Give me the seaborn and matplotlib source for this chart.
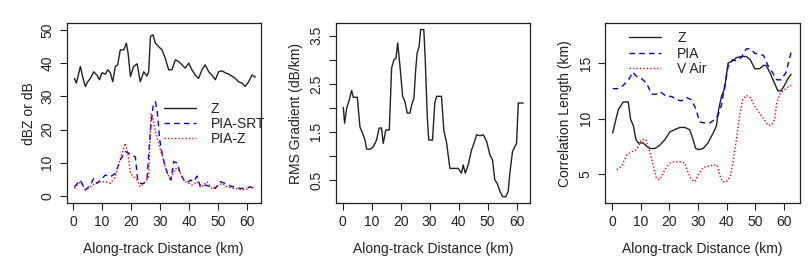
""" Along-track profiles: reflectivity/PIA, RMS gradient, correlation length """

import matplotlib
matplotlib.use('Agg')
import matplotlib.pyplot as plt
import numpy as np
import seaborn as sns

sns.set_style('ticks')
plt.rcParams['font.family'] = ['Liberation Sans', 'DejaVu Sans']

FS = 10
INK = '#222222'

# ---- panel 1: dBZ / dB ----
dist_z = [0.46, 1.15, 2.53, 3.45, 4.25, 5.06, 5.98, 7.13, 8.28, 9.08, 10.0, 11.15,
          11.95, 12.87, 13.68, 14.6, 15.4, 16.3, 17.5, 18.4, 19.0, 19.8, 20.9, 22.1,
          23.2, 24.4, 25.5, 26.1, 26.7, 27.6, 28.4, 29.5, 30.7, 31.8, 33.0, 34.1,
          35.3, 36.4, 37.6, 38.7, 39.9, 41.0, 42.2, 43.3, 44.5, 45.6, 46.8, 47.9,
          49.1, 50.2, 51.4, 52.5, 53.7, 54.8, 56.0, 57.1, 58.3, 59.4, 60.6, 61.7, 62.9]
z_dbz = [35.4, 34.0, 39.0, 35.4, 33.0, 34.4, 35.4, 37.4, 36.4, 35.0, 37.1, 36.7,
         38.0, 37.1, 34.4, 39.0, 39.5, 44.0, 44.0, 46.0, 43.0, 36.0, 39.0, 39.8,
         34.4, 37.4, 36.1, 37.4, 48.0, 48.5, 46.0, 45.0, 44.0, 41.5, 38.0, 38.0,
         41.0, 40.5, 39.5, 38.5, 40.0, 38.0, 36.4, 35.4, 38.0, 39.5, 37.4, 36.4,
         35.0, 37.4, 37.7, 37.1, 36.7, 36.1, 35.4, 34.4, 34.0, 33.0, 34.4, 36.4, 35.8]

dist_srt = [0.46, 2.53, 4.25, 5.98, 7.13, 8.28, 9.43, 11.15, 12.87, 14.6, 16.3, 18.0,
            19.2, 20.3, 21.5, 22.3, 23.2, 24.4, 25.5, 26.7, 27.6, 28.4, 29.0, 29.9,
            30.7, 31.8, 33.0, 33.8, 34.7, 35.9, 37.0, 38.2, 39.3, 40.5, 41.6, 42.8,
            43.9, 45.6, 47.4, 49.1, 50.8, 52.5, 54.3, 56.0, 57.7, 60.0, 61.1, 62.9]
pia_srt = [2.8, 4.8, 1.8, 3.3, 5.3, 3.8, 4.8, 6.3, 5.8, 6.8, 10.8, 13.4,
           12.9, 12.3, 11.8, 4.8, 3.8, 3.8, 4.8, 19.9, 26.9, 28.4, 25.9, 16.9,
           12.9, 8.8, 5.8, 4.8, 10.3, 10.0, 6.8, 4.8, 4.0, 4.8, 4.3, 6.0,
           2.8, 3.3, 2.8, 2.3, 4.3, 3.8, 3.0, 2.6, 2.3, 2.3, 2.8, 2.0]

dist_piaz = [0.46, 2.53, 4.25, 5.98, 7.7, 9.43, 11.15, 12.87, 14.6, 16.3, 18.0, 18.9,
             19.8, 20.9, 22.1, 23.2, 24.9, 26.1, 26.9, 27.6, 28.4, 29.5, 30.7, 31.8,
             33.0, 34.1, 35.3, 36.4, 37.6, 38.7, 39.9, 41.0, 42.8, 44.5, 46.2, 47.9,
             49.7, 51.4, 53.1, 55.4, 57.7, 59.4, 61.1, 62.9]
pia_z = [2.3, 4.3, 1.8, 2.8, 3.8, 4.3, 4.3, 3.8, 5.8, 11.3, 15.9, 12.9,
         6.8, 5.8, 4.8, 2.8, 4.3, 5.8, 24.9, 23.4, 19.4, 15.9, 12.3, 8.8,
         5.8, 5.8, 8.3, 8.0, 5.8, 4.3, 3.8, 3.3, 4.3, 2.8, 4.3, 2.3,
         3.0, 3.8, 2.8, 2.3, 2.0, 1.8, 2.8, 2.3]

# ---- panel 2: RMS gradient ----
dist_rms = [0.23, 0.69, 1.38, 2.3, 3.1, 3.68, 5.06, 5.98, 6.9, 7.7, 8.28, 9.43,
            10.6, 11.7, 12.6, 13.4, 14.0, 14.9, 16.1, 16.9, 17.7, 18.4, 19.0, 19.8,
            20.7, 21.5, 22.3, 23.2, 23.8, 24.6, 25.2, 25.7, 26.4, 26.9, 28.0, 28.5,
            29.2, 29.7, 31.0, 31.8, 32.4, 34.1, 34.9, 35.9, 37.0, 38.2, 39.9, 41.0,
            41.6, 42.3, 43.3, 44.5, 45.3, 46.2, 47.4, 48.5, 49.7, 50.8, 51.7, 52.5,
            53.3, 54.3, 55.2, 56.3, 57.1, 57.7, 58.6, 59.4, 60.0, 60.6, 62.3]
rms_grad = [2.01, 1.68, 1.99, 2.17, 2.36, 2.22, 2.22, 1.60, 1.47, 1.33, 1.14, 1.14,
            1.19, 1.33, 1.58, 1.58, 1.26, 1.54, 1.54, 2.83, 3.00, 3.03, 3.35, 2.86,
            2.24, 2.13, 1.89, 1.89, 2.06, 2.20, 2.79, 3.14, 3.28, 3.63, 3.63, 3.00,
            1.82, 1.33, 1.33, 2.10, 2.24, 2.24, 1.54, 1.26, 0.74, 0.74, 0.74, 0.64,
            0.81, 0.64, 0.81, 1.13, 1.26, 1.44, 1.42, 1.44, 1.30, 1.02, 0.92, 0.50,
            0.43, 0.26, 0.15, 0.15, 0.26, 0.64, 1.09, 1.19, 1.26, 2.10, 2.10]

# ---- panel 3: correlation length ----
dist_cz = [0.23, 1.04, 2.2, 3.94, 5.68, 6.5, 7.42, 8.35, 9.16, 10.9, 12.06, 13.2,
           14.97, 16.7, 18.45, 20.2, 21.9, 23.7, 25.4, 27.1, 28.3, 29.2, 30.4, 31.8,
           33.5, 35.3, 36.4, 37.2, 38.2, 39.3, 40.5, 42.0, 43.4, 45.1, 46.9, 48.3,
           49.8, 51.5, 52.9, 53.8, 55.0, 56.7, 57.9, 59.0, 60.2, 61.4, 62.5]
corr_z = [8.7, 9.6, 10.8, 11.5, 11.5, 9.9, 9.4, 8.1, 7.8, 7.8, 7.5, 7.3,
          7.3, 7.6, 8.1, 8.8, 9.0, 9.2, 9.2, 9.0, 8.1, 7.3, 7.2, 7.3,
          7.8, 8.7, 9.3, 10.8, 12.0, 12.7, 15.0, 15.2, 15.5, 15.6, 15.6, 15.3,
          14.5, 14.5, 14.8, 14.8, 14.2, 13.2, 12.5, 12.5, 13.0, 13.6, 14.0]

dist_cpia = [0.23, 2.2, 3.94, 6.03, 7.19, 8.58, 10.3, 12.06, 13.8, 15.5, 16.9, 19.0,
             20.8, 22.5, 24.2, 26.0, 27.7, 29.2, 30.6, 32.4, 34.1, 35.8, 37.0, 38.2,
             39.3, 40.5, 42.0, 43.4, 45.1, 46.9, 48.3, 49.8, 51.5, 52.9, 54.4, 55.9,
             57.5, 59.0, 60.8, 62.5]
corr_pia = [12.7, 12.7, 13.0, 13.6, 14.2, 13.8, 13.6, 13.2, 12.2, 12.2, 12.4, 12.0,
            12.0, 11.7, 11.6, 11.9, 11.7, 10.9, 9.7, 9.6, 9.6, 9.9, 10.3, 11.2,
            12.9, 14.7, 15.3, 15.2, 15.5, 16.3, 16.3, 15.9, 15.8, 15.7, 14.8, 14.2,
            13.5, 13.5, 14.2, 16.0]

dist_cair = [1.62, 3.36, 5.1, 6.84, 8.58, 10.3, 11.8, 13.2, 14.4, 15.5, 16.7, 18.45,
             20.2, 21.9, 23.7, 25.4, 26.6, 27.7, 28.9, 30.0, 31.8, 33.5, 35.3, 36.7,
             37.6, 38.5, 39.9, 41.3, 42.2, 43.4, 44.5, 45.6, 46.9, 48.3, 49.8, 51.5,
             53.2, 54.4, 55.6, 56.7, 57.5, 58.7, 60.2, 61.7, 62.5]
corr_vair = [5.4, 5.7, 6.7, 7.0, 7.2, 8.1, 8.1, 7.0, 5.8, 4.6, 4.5, 5.4,
             6.0, 6.1, 6.1, 6.0, 5.1, 4.5, 4.3, 4.9, 5.6, 5.7, 5.8, 5.8,
             4.9, 4.3, 4.3, 4.8, 6.0, 8.1, 10.2, 11.7, 12.1, 11.9, 11.1, 10.5,
             9.9, 9.4, 9.4, 9.9, 11.4, 12.3, 12.6, 12.9, 13.0]

fig = plt.figure(figsize=(8.08, 2.69), dpi=100)
bottom, height = 0.2454, 0.668
ax1 = fig.add_axes([0.0825, bottom, 0.240, height])
ax2 = fig.add_axes([0.4158, bottom, 0.240, height])
ax3 = fig.add_axes([0.7488, bottom, 0.2416, height])

sns.lineplot(x=dist_z, y=z_dbz, ax=ax1, color=INK, lw=1, label='Z')
sns.lineplot(x=dist_srt, y=pia_srt, ax=ax1, color='blue', lw=1, linestyle=(0, (4, 3)), label='PIA-SRT')
sns.lineplot(x=dist_piaz, y=pia_z, ax=ax1, color='red', lw=1, linestyle=(0, (1, 1.5)), label='PIA-Z')

sns.lineplot(x=dist_rms, y=rms_grad, ax=ax2, color=INK, lw=1)

sns.lineplot(x=dist_cz, y=corr_z, ax=ax3, color=INK, lw=1, label='Z')
sns.lineplot(x=dist_cpia, y=corr_pia, ax=ax3, color='blue', lw=1, linestyle=(0, (4, 3)), label='PIA')
sns.lineplot(x=dist_cair, y=corr_vair, ax=ax3, color='red', lw=1, linestyle=(0, (1, 1.5)), label='V Air')

ax1.set_ylim(-2.1, 52)
ax1.set_xlim(-2.2, 64.7)
ax1.set_yticks(np.arange(0, 51, 10))
ax1.set_ylabel('dBZ or dB', fontsize=FS, color=INK, labelpad=3)

ax2.set_ylim(0.02, 3.76)
ax2.set_xlim(-2.3, 64.6)
ax2.set_yticks(np.arange(0.5, 3.6, 0.5))
ax2.set_yticklabels(['0.5', '', '1.5', '', '2.5', '', '3.5'])
ax2.set_ylabel('RMS Gradient (dB/km)', fontsize=FS, color=INK, labelpad=5)

ax3.set_ylim(2.38, 18.6)
ax3.set_xlim(-2.44, 65.7)
ax3.set_yticks([5, 10, 15])
ax3.set_ylabel('Correlation Length (km)', fontsize=FS, color=INK, labelpad=5)

for ax in (ax1, ax2, ax3):
    ax.set_xticks(np.arange(0, 61, 10))
    ax.set_xlabel('Along-track Distance (km)', fontsize=FS, color=INK, labelpad=9)
    ax.tick_params(length=5, width=0.8, colors=INK, labelsize=FS, pad=4)
    plt.setp(ax.get_yticklabels(), rotation=90, va='center', ha='right')
    for s in ax.spines.values():
        s.set_visible(True)
        s.set_color(INK)
        s.set_linewidth(0.9)

ax1.legend(loc='upper left', bbox_to_anchor=(0.465, 0.60), frameon=False, fontsize=FS,
           handlelength=2.3, handletextpad=1.1, labelspacing=0.05, borderpad=0,
           labelcolor=INK)
ax3.legend(loc='upper left', bbox_to_anchor=(0.085, 0.995), frameon=False, fontsize=FS,
           handlelength=2.3, handletextpad=1.2, labelspacing=0.1, borderpad=0,
           labelcolor=INK)

fig.savefig('out.png', dpi=100)
